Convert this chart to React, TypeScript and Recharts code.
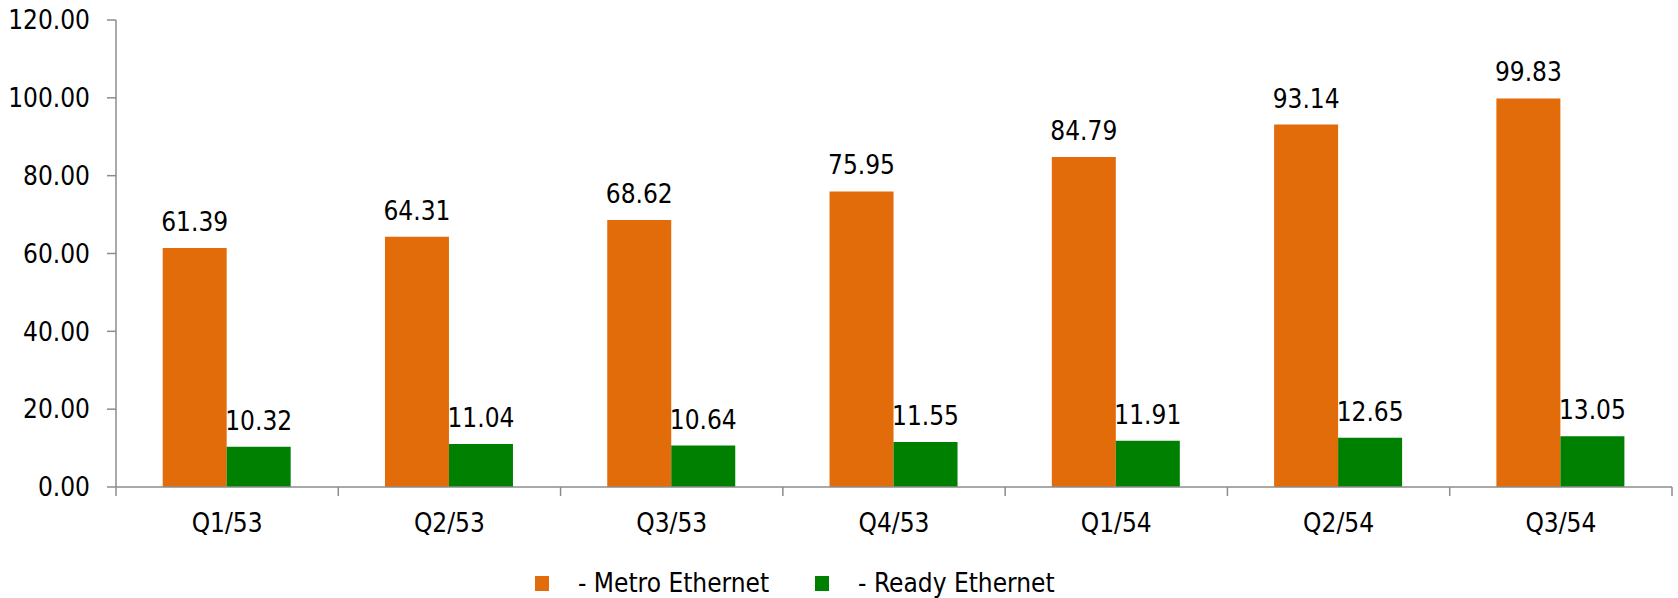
import { BarChart, Bar, XAxis, YAxis, LabelList } from 'recharts';

// #region Sample data
const quarters = ['Q1/53', 'Q2/53', 'Q3/53', 'Q4/53', 'Q1/54', 'Q2/54', 'Q3/54'];
const metroEthernet = [61.39, 64.31, 68.62, 75.95, 84.79, 93.14, 99.83];
const readyEthernet = [10.32, 11.04, 10.64, 11.55, 11.91, 12.65, 13.05];
const yTicks = [0, 20, 40, 60, 80, 100, 120];

const data = quarters.map((q, i) => ({
  name: q,
  metro: metroEthernet[i],
  ready: readyEthernet[i],
}));
// #endregion

const FONT = "'DejaVu Sans Condensed', 'DejaVu Sans', sans-serif";
const AXIS = '#8c8c8c';
const W = 1678;
const H = 598;
const M = { top: 20, right: 6, left: 0, bottom: 51 };
const Y_W = 116;
const band = (W - M.left - M.right - Y_W) / quarters.length;

const XTick = (props: any) => {
  const { x, y, payload, index } = props;
  const left = x - band / 2;
  return (
    <g>
      <line x1={left} y1={y - 8} x2={left} y2={y + 1} stroke={AXIS} strokeWidth={1.5} />
      {index === quarters.length - 1 && (
        <line x1={left + band} y1={y - 8} x2={left + band} y2={y + 1} stroke={AXIS} strokeWidth={1.5} />
      )}
      <text x={x} y={y + 37} textAnchor="middle" fontFamily={FONT} fontSize={26} fill="#000">
        {payload.value}
      </text>
    </g>
  );
};

const ChartLegend = () => (
  <div
    style={{
      position: 'absolute',
      left: 535,
      top: 568,
      display: 'flex',
      alignItems: 'center',
      fontFamily: FONT,
      fontSize: 26,
      color: '#000',
      whiteSpace: 'nowrap',
    }}
  >
    <span style={{ width: 14, height: 15, background: '#E36C0A', display: 'inline-block' }} />
    <span style={{ marginLeft: 29 }}>- Metro Ethernet</span>
    <span style={{ width: 14, height: 15, background: '#008000', display: 'inline-block', marginLeft: 46 }} />
    <span style={{ marginLeft: 29 }}>- Ready Ethernet</span>
  </div>
);

const App = () => {
  return (
    <div style={{ position: 'absolute', left: 0, top: 0, width: W, height: H }}>
      <BarChart width={W} height={H} data={data} margin={M} barGap={0} barCategoryGap="21%">
        <XAxis
          dataKey="name"
          axisLine={{ stroke: AXIS, strokeWidth: 1.5 }}
          tickLine={false}
          tick={<XTick />}
          interval={0}
          height={60}
        />
        <YAxis
          width={Y_W}
          domain={[0, 120]}
          ticks={yTicks}
          tickFormatter={(v: number) => v.toFixed(2)}
          axisLine={{ stroke: AXIS, strokeWidth: 1.5 }}
          tickLine={{ stroke: AXIS, strokeWidth: 1.5 }}
          tickSize={9}
          tickMargin={17}
          tick={{ fontFamily: FONT, fontSize: 26, fill: '#000' }}
        />
        <Bar dataKey="metro" name="- Metro Ethernet" fill="#E36C0A" isAnimationActive={false}>
          <LabelList
            dataKey="metro"
            position="top"
            offset={17}
            formatter={(v: any) => Number(v).toFixed(2)}
            style={{ fontFamily: FONT, fontSize: 26, fill: '#000' }}
          />
        </Bar>
        <Bar dataKey="ready" name="- Ready Ethernet" fill="#008000" isAnimationActive={false}>
          <LabelList
            dataKey="ready"
            position="top"
            offset={17}
            formatter={(v: any) => Number(v).toFixed(2)}
            style={{ fontFamily: FONT, fontSize: 26, fill: '#000' }}
          />
        </Bar>
      </BarChart>
      <ChartLegend />
    </div>
  );
};

export default App;
